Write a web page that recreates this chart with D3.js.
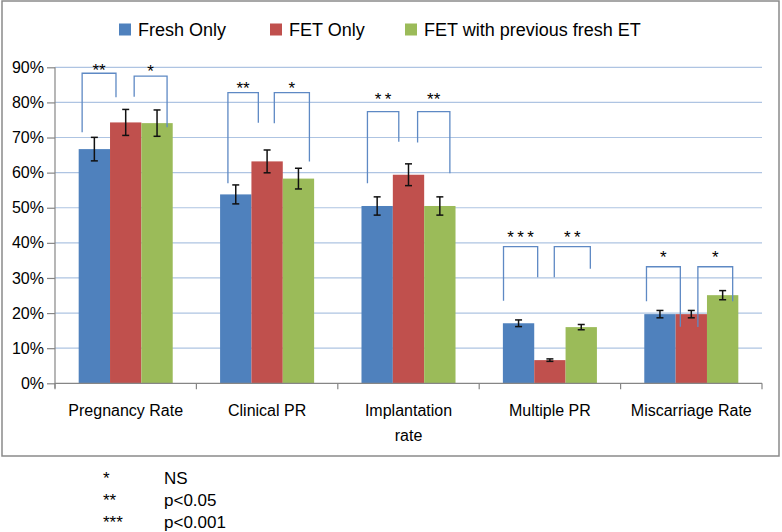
<!DOCTYPE html>
<html>
<head>
<meta charset="utf-8">
<script src="https://cdn.jsdelivr.net/npm/d3@7"></script>
<style>
  body { margin: 0; background: #fff; }
  svg { display: block; font-family: "Liberation Sans", Arial, Helvetica, sans-serif; }
</style>
</head>
<body>
<div id="chart"></div>
<script>
// values (percent)
const categories = ["Pregnancy Rate", "Clinical PR", "Implantation rate", "Multiple PR", "Miscarriage Rate"];
const categoryLabels = [["Pregnancy Rate"], ["Clinical PR"], ["Implantation", "rate"], ["Multiple PR"], ["Miscarriage Rate"]];
const series = ["Fresh Only", "FET Only", "FET with previous fresh ET"];
const freshOnly = [66.7, 53.8, 50.5, 17.1, 19.7];
const fetOnly = [74.3, 63.2, 59.4, 6.6, 19.7];
const fetWithFresh = [74.1, 58.3, 50.5, 16.0, 25.1];
const freshErr = [3.35, 2.7, 2.6, 0.95, 1.05];
const fetErr = [3.7, 3.25, 3.1, 0.35, 1.05];
const fetWithFreshErr = [3.75, 2.95, 2.6, 0.75, 1.3];
const yTicks = [0, 10, 20, 30, 40, 50, 60, 70, 80, 90];

// significance brackets: first pair Fresh vs FET, second FET vs FET with fresh
const bracketCategory = [0, 0, 1, 1, 2, 2, 3, 3, 4, 4];
const bracketText = ["**", "*", "**", "*", "*\u2009*", "**", "*\u2009*\u2009*", "*\u2009*", "*", "*"];
const bracketTop = [88.3, 87.5, 82.8, 82.8, 77.4, 77.4, 38.9, 38.9, 33.2, 33.2];
const bracketLeftEnd = [71.5, 81.6, 57.0, 74.1, 57.0, 68.6, 23.5, 30.2, 23.4, 16.0];
const bracketRightEnd = [81.5, 72.9, 74.2, 63.2, 68.8, 59.8, 30.2, 32.6, 16.1, 23.4];
const bracketLeftFrac = [0.11, 0.77, 0.25, 0.73, 0.19, 0.79, 0.02, 0.64, 0.07, 0.71];
const bracketRightFrac = [0.19, 0.82, 0.22, 0.85, 0.19, 0.82, 0.11, 0.79, 0.15, 0.82];
const bracketLabelLevel = [90.3, 90.1, 85.2, 85.2, 82.1, 82.1, 42.7, 42.7, 37.0, 37.0];

const footSymbols = ["*", "**", "***"];
const footMeaning = ["NS", "p<0.05", "p<0.001"];

const colors = ["#4f81bd", "#c0504d", "#9bbb59"];
const values = [freshOnly, fetOnly, fetWithFresh];
const errors = [freshErr, fetErr, fetWithFreshErr];

const width = 782, height = 532;
const plot = {left: 55, right: 762, top: 67.3, bottom: 383.3};

const svg = d3.select("#chart").append("svg")
    .attr("width", width)
    .attr("height", height);

// outer frame
svg.append("rect")
    .attr("x", 2).attr("y", 1)
    .attr("width", 777).attr("height", 455)
    .attr("fill", "none")
    .attr("stroke", "#8a8a8a")
    .attr("stroke-width", 1.5);

const x0 = d3.scaleBand(categories, [plot.left, plot.right])
    .paddingInner(0.335)
    .paddingOuter(0.1675);
const x1 = d3.scaleBand(d3.range(series.length), [0, x0.bandwidth()]);
const y = d3.scaleLinear([0, 90], [plot.bottom, plot.top]);
const step = x0.step();

// gridlines
svg.append("g")
    .selectAll("line")
    .data(yTicks.filter(d => d > 0))
    .join("line")
    .attr("x1", plot.left).attr("x2", plot.right)
    .attr("y1", d => y(d)).attr("y2", d => y(d))
    .attr("stroke", "#aec4e2")
    .attr("stroke-width", 1.2);

// bars
const rows = categories.flatMap((c, i) => series.map((s, j) => ({
    cat: c, s: j, v: values[j][i], e: errors[j][i]
})));

svg.append("g")
    .selectAll("rect")
    .data(rows)
    .join("rect")
    .attr("x", d => x0(d.cat) + x1(d.s))
    .attr("width", x1.bandwidth())
    .attr("y", d => y(d.v))
    .attr("height", d => y(0) - y(d.v))
    .attr("fill", d => colors[d.s]);

// error bars
const eb = svg.append("g")
    .attr("stroke", "#111")
    .attr("stroke-width", 1.5)
    .selectAll("g")
    .data(rows)
    .join("g")
    .attr("transform", d => `translate(${x0(d.cat) + x1(d.s) + x1.bandwidth() / 2},0)`);
eb.append("line")
    .attr("y1", d => y(d.v + d.e)).attr("y2", d => y(d.v - d.e));
eb.append("line")
    .attr("x1", -3.5).attr("x2", 3.5)
    .attr("y1", d => y(d.v + d.e)).attr("y2", d => y(d.v + d.e));
eb.append("line")
    .attr("x1", -3.5).attr("x2", 3.5)
    .attr("y1", d => y(d.v - d.e)).attr("y2", d => y(d.v - d.e));

// y axis
const yAxis = svg.append("g")
    .attr("transform", `translate(${plot.left},0)`)
    .call(d3.axisLeft(y).tickValues(yTicks).tickSize(8).tickPadding(3).tickFormat(d => d + "%"));
yAxis.select(".domain").attr("d", `M0,${plot.top}V${plot.bottom + 5}`);
yAxis.selectAll("line, .domain").attr("stroke", "#868686").attr("stroke-width", 1.2);
yAxis.selectAll("text")
    .attr("font-size", 16)
    .attr("font-family", "'Liberation Sans', Arial, sans-serif")
    .attr("fill", "#000");

// x axis line and category ticks
const xg = svg.append("g").attr("stroke", "#868686").attr("stroke-width", 1.2);
xg.append("line")
    .attr("x1", plot.left).attr("x2", plot.right)
    .attr("y1", y(0)).attr("y2", y(0));
xg.selectAll("line.tick")
    .data(d3.range(categories.length + 1))
    .join("line")
    .attr("class", "tick")
    .attr("x1", i => plot.left + i * step).attr("x2", i => plot.left + i * step)
    .attr("y1", y(0)).attr("y2", y(0) + 6);

svg.append("g")
    .attr("font-size", 16)
    .attr("text-anchor", "middle")
    .selectAll("text")
    .data(categories)
    .join("text")
    .attr("x", d => x0(d) + x0.bandwidth() / 2)
    .attr("y", y(0) + 32.7)
    .each(function(d, i) {
        d3.select(this).selectAll("tspan")
            .data(categoryLabels[i])
            .join("tspan")
            .attr("x", x0(d) + x0.bandwidth() / 2)
            .attr("dy", (t, k) => k === 0 ? 0 : 25)
            .text(t => t);
    });

// significance brackets
const bg = svg.append("g");
bracketCategory.forEach((ci, b) => {
    const cat = categories[ci];
    const ls = b % 2 === 0 ? 0 : 1;
    const rs = ls + 1;
    const xl = x0(cat) + x1(ls) + bracketLeftFrac[b] * x1.bandwidth();
    const xr = x0(cat) + x1(rs) + bracketRightFrac[b] * x1.bandwidth();
    bg.append("path")
        .attr("d", `M${xl},${y(bracketLeftEnd[b])}V${y(bracketTop[b])}H${xr}V${y(bracketRightEnd[b])}`)
        .attr("fill", "none")
        .attr("stroke", "#5e89c4")
        .attr("stroke-width", 1.3);
    bg.append("text")
        .attr("x", (xl + xr) / 2)
        .attr("y", y(bracketLabelLevel[b]))
        .attr("dy", "0.57em")
        .attr("text-anchor", "middle")
        .attr("font-size", 17)
        .text(bracketText[b]);
});

// legend
const legX = [119, 270, 405];
const legend = svg.append("g")
    .selectAll("g")
    .data(series)
    .join("g")
    .attr("transform", (d, i) => `translate(${legX[i]},23.5)`);
legend.append("rect")
    .attr("width", 12).attr("height", 12)
    .attr("fill", (d, i) => colors[i]);
legend.append("text")
    .attr("x", 19).attr("y", 12)
    .attr("font-size", 18)
    .text(d => d);

// footnote
const foot = svg.append("g")
    .attr("font-size", 17)
    .selectAll("g")
    .data(footSymbols)
    .join("g")
    .attr("transform", (d, i) => `translate(0,${483.5 + i * 22})`);
foot.append("text").attr("x", 103).text(d => d);
foot.append("text").attr("x", 164).text((d, i) => footMeaning[i]);
</script>
</body>
</html>
